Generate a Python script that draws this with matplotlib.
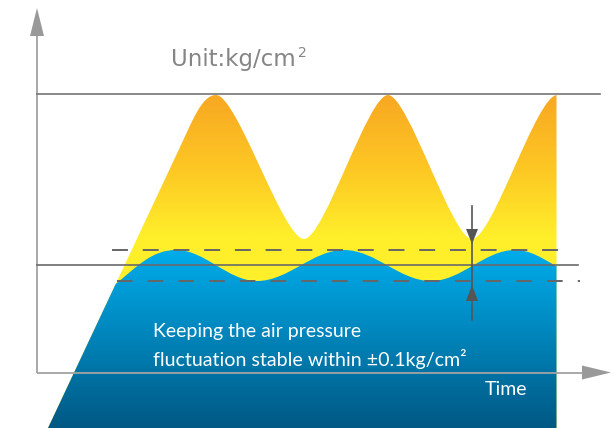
import numpy as np
import matplotlib
matplotlib.use("Agg")
import matplotlib.pyplot as plt
from matplotlib.path import Path
from matplotlib.patches import PathPatch, Polygon

# ---------------- data (pixel-space readings from the reference) -------------
# Unregulated pressure (yellow): alternating peaks / troughs
yellow_ext_x = [216, 304, 388, 472, 557]
yellow_ext_y = [95, 239, 95, 239, 95]
# Regulated pressure (blue): alternating peaks / troughs, then end point
blue_ext_x = [176, 257, 344, 431, 515]
blue_ext_y = [250, 281, 250, 281, 250]
blue_end = (556, 266)

# reference levels
level_top = 94          # upper solid line
level_mid = 265         # set-point line
band_hi = 250           # +0.1 dashed
band_lo = 281           # -0.1 dashed

unit_label = "Unit:kg/cm"
note_lines = ["Keeping the air pressure",
              "fluctuation stable within \u00b10.1kg/cm\u00b2"]
time_label = "Time"

# ---------------- layout / style ------------------------------------------------
W, H = 614, 428
fig = plt.figure(figsize=(W / 100, H / 100), dpi=100)
ax = fig.add_axes([0, 0, 1, 1])
ax.set_xlim(0, W)
ax.set_ylim(H, 0)
ax.axis("off")

# ramp line (left flank shared by both areas): x = x0 + k*(y0 - y)
ramp_x0, ramp_y0, ramp_k = 48, 428, 0.47
def ramp_x(y):
    return ramp_x0 + ramp_k * (ramp_y0 - y)

Y_BOT = 445
right_x = 556.5

# ---------- yellow path
verts = [(ramp_x(Y_BOT), Y_BOT), (ramp_x(150), 150)]
codes = [Path.MOVETO, Path.LINETO]
verts += [(ramp_x(150) + ramp_k * 30, 120), (yellow_ext_x[0] - 14, yellow_ext_y[0]),
          (yellow_ext_x[0], yellow_ext_y[0])]
codes += [Path.CURVE4] * 3
for i in range(1, len(yellow_ext_x)):
    x0, y0 = yellow_ext_x[i - 1], yellow_ext_y[i - 1]
    x1, y1 = yellow_ext_x[i], yellow_ext_y[i]
    h = 0.24 * (x1 - x0)
    verts += [(x0 + h, y0), (x1 - h, y1), (x1, y1)]
    codes += [Path.CURVE4] * 3
verts += [(right_x, yellow_ext_y[-1]), (right_x, Y_BOT), (ramp_x(Y_BOT), Y_BOT)]
codes += [Path.LINETO, Path.LINETO, Path.CLOSEPOLY]
yellow_path = Path(verts, codes)

# ---------- blue path
ys = 284
verts = [(ramp_x(Y_BOT), Y_BOT), (ramp_x(ys), ys)]
codes = [Path.MOVETO, Path.LINETO]
verts += [(ramp_x(ys) + 22, ys - 18), (blue_ext_x[0] - 24, blue_ext_y[0]),
          (blue_ext_x[0], blue_ext_y[0])]
codes += [Path.CURVE4] * 3
for i in range(1, len(blue_ext_x)):
    x0, y0 = blue_ext_x[i - 1], blue_ext_y[i - 1]
    x1, y1 = blue_ext_x[i], blue_ext_y[i]
    h = 0.363 * (x1 - x0)
    verts += [(x0 + h, y0), (x1 - h, y1), (x1, y1)]
    codes += [Path.CURVE4] * 3
x0, y0 = blue_ext_x[-1], blue_ext_y[-1]
verts += [(x0 + 15, y0), (blue_end[0] - 14, blue_end[1] - 8), blue_end]
codes += [Path.CURVE4] * 3
verts += [(right_x, blue_end[1]), (right_x, Y_BOT), (ramp_x(Y_BOT), Y_BOT)]
codes += [Path.LINETO, Path.LINETO, Path.CLOSEPOLY]
blue_path = Path(verts, codes)

def gradient_fill(path, stops, ytop=85, ybot=Y_BOT, z=1):
    patch = PathPatch(path, facecolor="none", edgecolor="none")
    ax.add_patch(patch)
    yy = np.linspace(ytop, ybot, 400)
    sy = [s[0] for s in stops]
    cols = np.array([[c / 255 for c in s[1]] for s in stops])
    img = np.stack([np.interp(yy, sy, cols[:, j]) for j in range(3)], axis=-1)
    img = img[:, None, :]
    im = ax.imshow(img, extent=[0, W, ybot, ytop], aspect="auto",
                   origin="upper", zorder=z, interpolation="bilinear")
    im.set_clip_path(patch)

gradient_fill(yellow_path, [(95, (248, 168, 34)), (170, (253, 200, 36)),
                            (235, (255, 238, 42)), (300, (255, 241, 42))], z=1)
gradient_fill(blue_path, [(250, (0, 172, 234)), (300, (0, 150, 208)),
                          (360, (0, 121, 172)), (428, (0, 88, 132))], z=2)

# ---------------- lines ----------------------------------------------------------
axis_col = "#a3a3a3"
ax.plot([37, 37], [30, 373], color=axis_col, lw=1.3, zorder=3, solid_capstyle="butt")
ax.plot([37, 584], [372.5, 372.5], color=axis_col, lw=1.3, zorder=3, solid_capstyle="butt")
ax.add_patch(Polygon([[30, 36], [44, 36], [37, 8]], closed=True, color="#999999", zorder=3, lw=0))
ax.add_patch(Polygon([[582, 365.5], [582, 379.5], [611, 372.5]], closed=True, color="#999999", zorder=3, lw=0))

ax.plot([37, 600], [level_top, level_top], color="#747474", lw=1.2, zorder=3)
ax.plot([37, 578], [level_mid, level_mid], color="#6a6a6a", lw=1.2, zorder=3)
ax.plot([112, 570], [band_hi, band_hi], color="#666666", lw=1.4, zorder=3,
        dashes=(8.2, 7.6))
ax.plot([117, 580], [band_lo, band_lo], color="#666666", lw=1.4, zorder=3,
        dashes=(8.0, 7.8))

# tolerance marker
mx = 472
ax.plot([mx, mx], [206, 320], color="#555555", lw=1.2, zorder=4)
ax.add_patch(Polygon([[466, 229], [478, 229], [mx, 244]], closed=True, color="#555555", zorder=4, lw=0))
ax.add_patch(Polygon([[466, 301], [478, 301], [mx, 285]], closed=True, color="#555555", zorder=4, lw=0))

# ---------------- text -----------------------------------------------------------
ax.text(171, 66, unit_label, fontsize=16.5, color="#858585", family="DejaVu Sans",
        ha="left", va="baseline", zorder=5)
ax.text(298, 57, "2", fontsize=10, color="#858585", family="DejaVu Sans",
        ha="left", va="baseline", zorder=5)
ax.text(153, 337, note_lines[0], fontsize=14, color="white", family="Lato",
        ha="left", va="baseline", zorder=5)
ax.text(153, 366, note_lines[1], fontsize=14.1, color="white", family="Lato",
        ha="left", va="baseline", zorder=5)
ax.text(485, 395, time_label, fontsize=14, color="white", family="Lato",
        ha="left", va="baseline", zorder=5)

fig.savefig("out.png", dpi=100)
